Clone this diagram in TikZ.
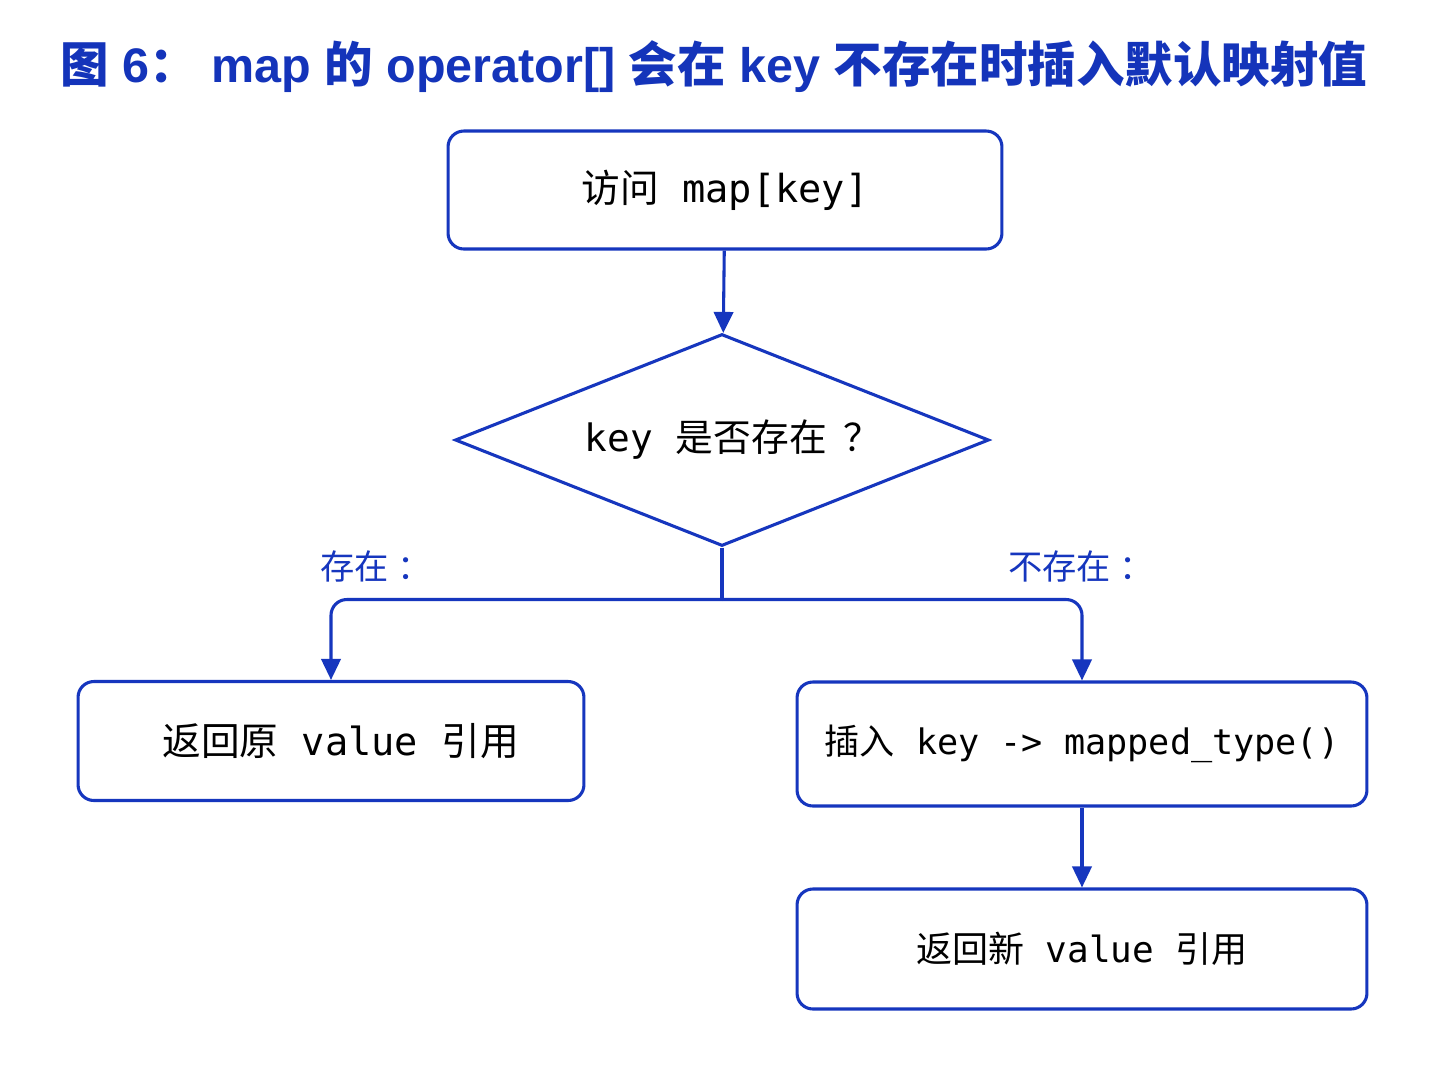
\documentclass[tikz,border=0pt]{standalone}
\usepackage{fontspec}
\setmainfont{Liberation Sans}
\setmonofont{DejaVu Sans Mono}
\newfontfamily\cjk{Noto Sans CJK SC}
\usepackage{tikz}
\usetikzlibrary{shapes.geometric,arrows.meta}
\definecolor{lineblue}{RGB}{22,54,190}
\definecolor{titleblue}{RGB}{20,52,186}

\begin{document}
\begin{tikzpicture}[x=0.02cm,y=-0.02cm,
  box/.style={draw=lineblue,line width=1.75pt,rounded corners=9pt,fill=white,
    inner sep=0pt,font=\ttfamily\fontsize{21}{24}\selectfont},
  decide/.style={draw=lineblue,line width=1.75pt,diamond,aspect=2.52,inner sep=0pt,
    minimum width=10.68cm,minimum height=4.24cm,fill=white,
    font=\ttfamily\fontsize{21.5}{24}\selectfont},
  arr/.style={draw=lineblue,line width=1.75pt,-{Triangle[length=12pt,width=11pt]}},
  lbl/.style={text=lineblue,anchor=west,font=\cjk\fontsize{19.5}{22}\selectfont}]
\fill[white] (0,0) rectangle (1448,1086);
\useasboundingbox (0,0) rectangle (1448,1086);
\node[anchor=west,inner sep=0pt,text=titleblue,font=\bfseries\fontsize{27.6}{32}\selectfont] (title) at (60,67)
  {{\cjk\bfseries 图} 6{\cjk\bfseries ：} map {\cjk\bfseries 的} operator[] {\cjk\bfseries 会在} key {\cjk\bfseries 不存在时插入默认映射值}};
\node[box,minimum width=11.08cm,minimum height=2.36cm,font=\ttfamily\fontsize{22}{24}\selectfont] (visit) at (725,190) {{\cjk 访问} map[key]};
\node[decide] (exists) at (722,440) {\hspace*{0.6em}key {\cjk 是否存在}\hspace{0.45em}{\cjk ？}};
\node[box,minimum width=10.12cm,minimum height=2.38cm,font=\ttfamily\fontsize{22}{24}\selectfont] (old) at (331,741) {\hspace*{0.5em}{\cjk 返回原} value {\cjk 引用}};
\node[box,minimum width=11.4cm,minimum height=2.48cm,font=\ttfamily\fontsize{20}{24}\selectfont] (insert) at (1082,744) {{\cjk 插入} key -> mapped\_type()};
\node[box,minimum width=11.4cm,minimum height=2.4cm,font=\ttfamily\fontsize{20.5}{24}\selectfont] (new) at (1082,949) {{\cjk 返回新} value {\cjk 引用}};
\node[lbl] (yes) at (314,566) {存在\hspace{0.25em}：};
\node[lbl] (no) at (1002,566) {不存在\hspace{0.25em}：};
\draw[arr] (visit) -- (exists);
\draw[draw=lineblue,line width=1.75pt] (exists.south) -- ++(0,52) coordinate (split);
\draw[arr,rounded corners=9pt] (split) -| (old.north);
\draw[arr,rounded corners=9pt] (split) -| (insert.north);
\draw[arr] (insert) -- (new);
\end{tikzpicture}
\end{document}
